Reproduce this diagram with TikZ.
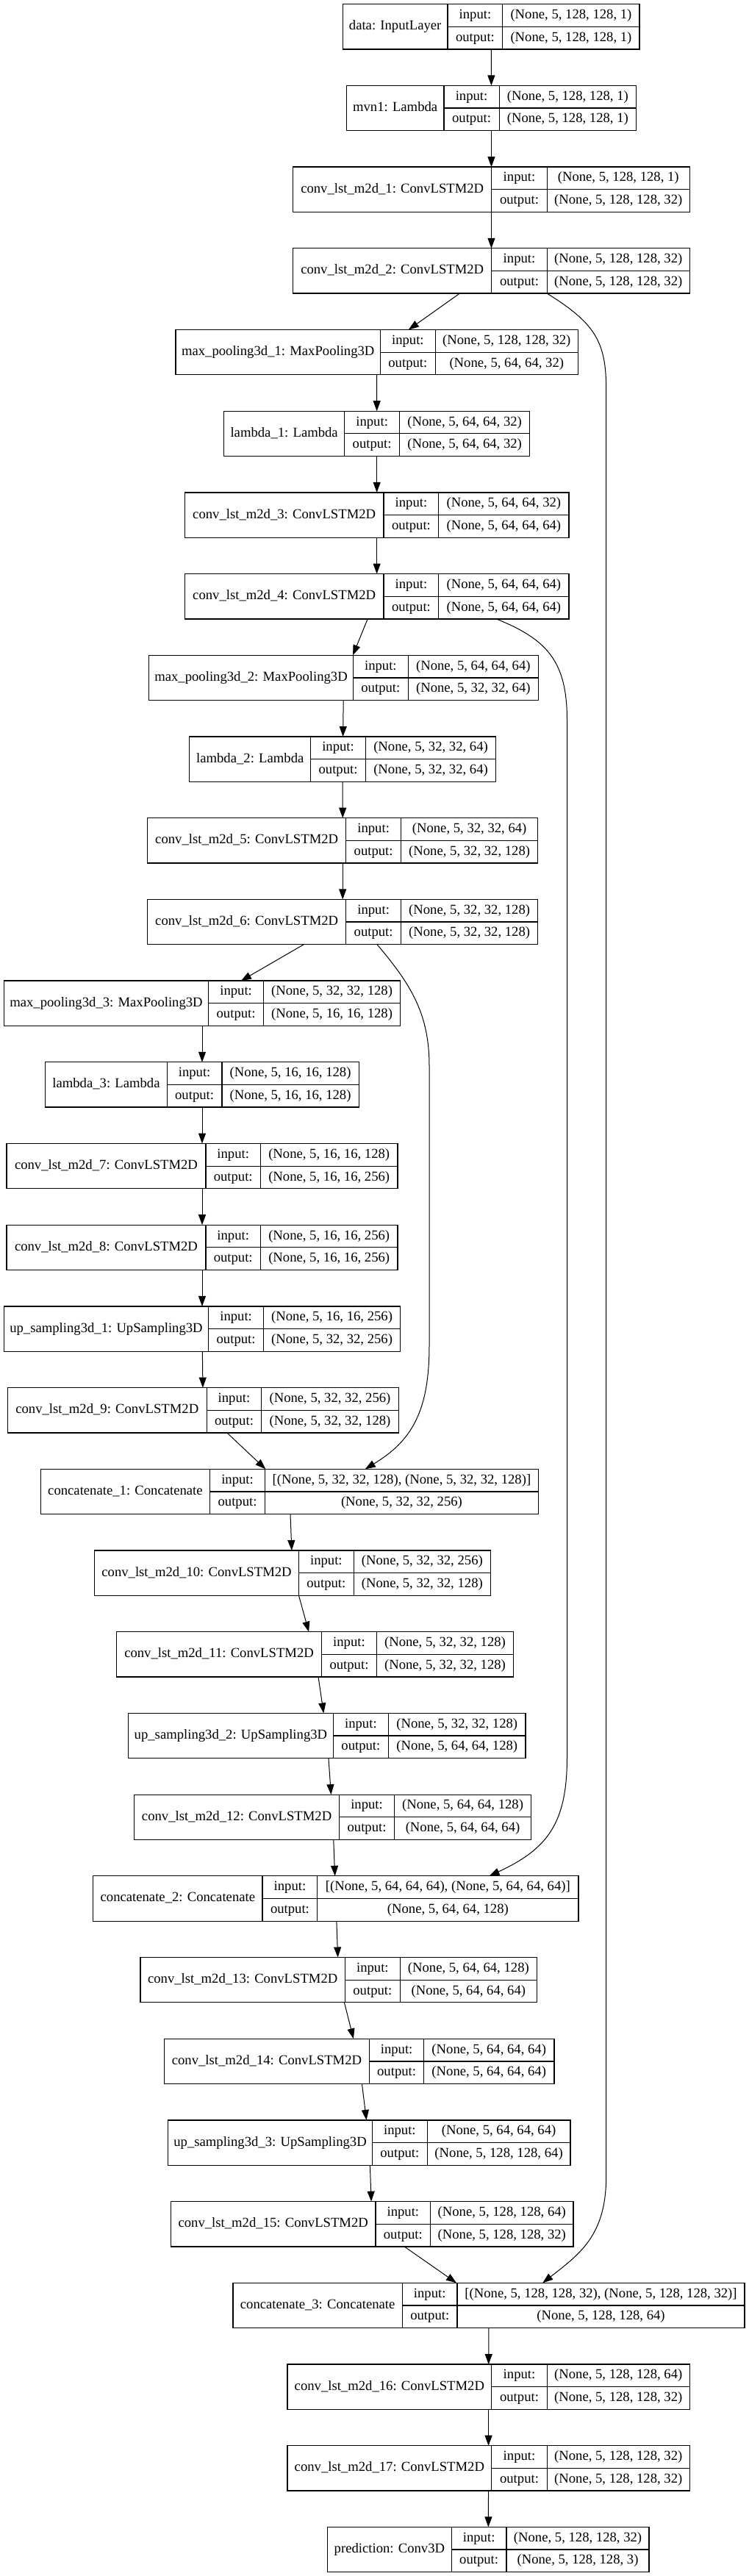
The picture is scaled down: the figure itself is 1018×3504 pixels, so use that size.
\documentclass[tikz,border=0pt]{standalone}
\usepackage{fontspec}
\setmainfont{Liberation Serif}
\usetikzlibrary{arrows.meta}
\newcommand{\kerasLayer}[9]{%
  \pgfmathsetmacro\lyT{5.7+110.7*#6}%
  \pgfmathsetmacro\lyB{\lyT+61.3}%
  \pgfmathsetmacro\lyM{\lyT+30.65}%
  \pgfmathsetmacro\lyI{\lyT+15.3}%
  \pgfmathsetmacro\lyO{\lyT+46}%
  \node[lbox, minimum width={#5-#2}, anchor=north west] (#1) at (#2,\lyT) {};
  \draw[cellline] (#3,\lyT) -- (#3,\lyB);
  \draw[cellline] (#4,\lyT) -- (#4,\lyB);
  \draw[cellline] (#3,\lyM) -- (#5,\lyM);
  \node[txt] (#1-l) at ({(#2+#3)/2},\lyM) {#7};
  \node[txt] (#1-i) at ({(#3+#4)/2},\lyI) {input:};
  \node[txt] (#1-o) at ({(#3+#4)/2},\lyO) {output:};
  \node[txt] (#1-si) at ({(#4+#5)/2},\lyI) {#8};
  \node[txt] (#1-so) at ({(#4+#5)/2},\lyO) {#9};
}
\begin{document}
\begin{tikzpicture}[x=1pt,y=-1pt,
  lbox/.style={draw, line width=1.25pt, inner sep=0pt, outer sep=0pt, minimum height=61.3pt},
  cellline/.style={line width=1.25pt},
  txt/.style={inner sep=0pt, font=\fontsize{18.67pt}{22pt}\selectfont, text height=13pt, text depth=4pt},
  edge/.style={-{Triangle[length=14pt,width=10pt]}, line width=1pt}]
\useasboundingbox[fill=white] (0,0) rectangle (1018,3504);

\kerasLayer{data}{466.2}{609.1}{683.8}{870.1}{0}{data: InputLayer}{(None, 5, 128, 128, 1)}{(None, 5, 128, 128, 1)}
\kerasLayer{mvn}{471.4}{603.9}{679.2}{865.6}{1}{mvn1: Lambda}{(None, 5, 128, 128, 1)}{(None, 5, 128, 128, 1)}
\kerasLayer{c1}{398.7}{668.8}{744.2}{938.3}{2}{conv\_lst\_m2d\_1: ConvLSTM2D}{(None, 5, 128, 128, 1)}{(None, 5, 128, 128, 32)}
\kerasLayer{c2}{398.7}{668.8}{744.2}{938.3}{3}{conv\_lst\_m2d\_2: ConvLSTM2D}{(None, 5, 128, 128, 32)}{(None, 5, 128, 128, 32)}
\kerasLayer{mp1}{239.0}{517.5}{592.2}{786.4}{4}{max\_pooling3d\_1: MaxPooling3D}{(None, 5, 128, 128, 32)}{(None, 5, 64, 64, 32)}
\kerasLayer{la1}{304.5}{468.8}{543.5}{720.8}{5}{lambda\_1: Lambda}{(None, 5, 64, 64, 32)}{(None, 5, 64, 64, 32)}
\kerasLayer{c3}{251.3}{522.1}{596.8}{774.0}{6}{conv\_lst\_m2d\_3: ConvLSTM2D}{(None, 5, 64, 64, 32)}{(None, 5, 64, 64, 64)}
\kerasLayer{c4}{251.3}{522.1}{596.8}{774.0}{7}{conv\_lst\_m2d\_4: ConvLSTM2D}{(None, 5, 64, 64, 64)}{(None, 5, 64, 64, 64)}
\kerasLayer{mp2}{202.6}{480.5}{555.2}{732.5}{8}{max\_pooling3d\_2: MaxPooling3D}{(None, 5, 64, 64, 64)}{(None, 5, 32, 32, 64)}
\kerasLayer{la2}{257.8}{422.7}{497.4}{674.7}{9}{lambda\_2: Lambda}{(None, 5, 32, 32, 64)}{(None, 5, 32, 32, 64)}
\kerasLayer{c5}{200.6}{470.8}{545.5}{731.8}{10}{conv\_lst\_m2d\_5: ConvLSTM2D}{(None, 5, 32, 32, 64)}{(None, 5, 32, 32, 128)}
\kerasLayer{c6}{200.6}{470.8}{545.5}{731.8}{11}{conv\_lst\_m2d\_6: ConvLSTM2D}{(None, 5, 32, 32, 128)}{(None, 5, 32, 32, 128)}
\kerasLayer{mp3}{5.2}{283.8}{358.4}{544.8}{12}{max\_pooling3d\_3: MaxPooling3D}{(None, 5, 32, 32, 128)}{(None, 5, 16, 16, 128)}
\kerasLayer{la3}{61.7}{227.3}{301.9}{488.3}{13}{lambda\_3: Lambda}{(None, 5, 16, 16, 128)}{(None, 5, 16, 16, 128)}
\kerasLayer{c7}{9.1}{279.9}{354.5}{540.9}{14}{conv\_lst\_m2d\_7: ConvLSTM2D}{(None, 5, 16, 16, 128)}{(None, 5, 16, 16, 256)}
\kerasLayer{c8}{9.1}{279.9}{354.5}{540.9}{15}{conv\_lst\_m2d\_8: ConvLSTM2D}{(None, 5, 16, 16, 256)}{(None, 5, 16, 16, 256)}
\kerasLayer{up1}{5.2}{283.8}{358.4}{544.8}{16}{up\_sampling3d\_1: UpSampling3D}{(None, 5, 16, 16, 256)}{(None, 5, 32, 32, 256)}
\kerasLayer{c9}{10.4}{281.2}{355.8}{542.2}{17}{conv\_lst\_m2d\_9: ConvLSTM2D}{(None, 5, 32, 32, 256)}{(None, 5, 32, 32, 128)}
\kerasLayer{cat1}{55.2}{285.7}{360.4}{732.5}{18}{concatenate\_1: Concatenate}{[(None, 5, 32, 32, 128), (None, 5, 32, 32, 128)]}{(None, 5, 32, 32, 256)}
\kerasLayer{c10}{128.6}{406.5}{481.2}{667.5}{19}{conv\_lst\_m2d\_10: ConvLSTM2D}{(None, 5, 32, 32, 256)}{(None, 5, 32, 32, 128)}
\kerasLayer{c11}{158.4}{437.7}{512.3}{698.7}{20}{conv\_lst\_m2d\_11: ConvLSTM2D}{(None, 5, 32, 32, 128)}{(None, 5, 32, 32, 128)}
\kerasLayer{up2}{174.7}{453.2}{528.6}{714.9}{21}{up\_sampling3d\_2: UpSampling3D}{(None, 5, 32, 32, 128)}{(None, 5, 64, 64, 128)}
\kerasLayer{c12}{182.5}{461.7}{536.4}{722.7}{22}{conv\_lst\_m2d\_12: ConvLSTM2D}{(None, 5, 64, 64, 128)}{(None, 5, 64, 64, 64)}
\kerasLayer{cat2}{126.6}{357.1}{431.8}{787.0}{23}{concatenate\_2: Concatenate}{[(None, 5, 64, 64, 64), (None, 5, 64, 64, 64)]}{(None, 5, 64, 64, 128)}
\kerasLayer{c13}{190.9}{469.5}{544.2}{730.5}{24}{conv\_lst\_m2d\_13: ConvLSTM2D}{(None, 5, 64, 64, 128)}{(None, 5, 64, 64, 64)}
\kerasLayer{c14}{223.4}{502.6}{576.6}{753.9}{25}{conv\_lst\_m2d\_14: ConvLSTM2D}{(None, 5, 64, 64, 64)}{(None, 5, 64, 64, 64)}
\kerasLayer{up3}{228.6}{506.5}{581.2}{776.0}{26}{up\_sampling3d\_3: UpSampling3D}{(None, 5, 64, 64, 64)}{(None, 5, 128, 128, 64)}
\kerasLayer{c15}{232.5}{511.0}{585.7}{779.9}{27}{conv\_lst\_m2d\_15: ConvLSTM2D}{(None, 5, 128, 128, 64)}{(None, 5, 128, 128, 32)}
\kerasLayer{cat3}{316.9}{547.4}{622.1}{1013.0}{28}{concatenate\_3: Concatenate}{[(None, 5, 128, 128, 32), (None, 5, 128, 128, 32)]}{(None, 5, 128, 128, 64)}
\kerasLayer{c16}{390.9}{668.8}{744.2}{938.3}{29}{conv\_lst\_m2d\_16: ConvLSTM2D}{(None, 5, 128, 128, 64)}{(None, 5, 128, 128, 32)}
\kerasLayer{c17}{390.9}{668.8}{744.2}{938.3}{30}{conv\_lst\_m2d\_17: ConvLSTM2D}{(None, 5, 128, 128, 32)}{(None, 5, 128, 128, 32)}
\kerasLayer{pred}{445.5}{614.3}{689.0}{883.1}{31}{prediction: Conv3D}{(None, 5, 128, 128, 32)}{(None, 5, 128, 128, 3)}

% straight connectors (centre to centre, clipped at borders)
\foreach \a/\b in {data/mvn, mvn/c1, c1/c2, c2/mp1, mp1/la1, la1/c3, c3/c4, c4/mp2,
  mp2/la2, la2/c5, c5/c6, c6/mp3, mp3/la3, la3/c7, c7/c8, c8/up1, up1/c9, c9/cat1,
  cat1/c10, c10/c11, c11/up2, up2/c12, c12/cat2, cat2/c13, c13/c14, c14/up3,
  up3/c15, c15/cat3, cat3/c16, c16/c17, c17/pred}
  \draw[edge] (\a) -- (\b);

% skip connectors
\draw[edge] ([xshift=75.7pt]c2.south) .. controls (810,440) and (824.7,465) .. (824.7,530)
  -- (824.7,2960) .. controls (824.7,3040) and (790,3065) .. ([xshift=73.3pt]cat3.north);
\draw[edge] ([xshift=162.65pt]c4.south) .. controls (745,870) and (771.5,900) .. (771.5,980)
  -- (771.5,2390) .. controls (771.5,2480) and (745,2515) .. ([xshift=208.8pt]cat2.north);
\draw[edge] ([xshift=46.8pt]c6.south) .. controls (560,1340) and (584,1380) .. (584,1450)
  -- (584,1830) .. controls (584,1920) and (560,1960) .. ([xshift=102.95pt]cat1.north);
\end{tikzpicture}
\end{document}
